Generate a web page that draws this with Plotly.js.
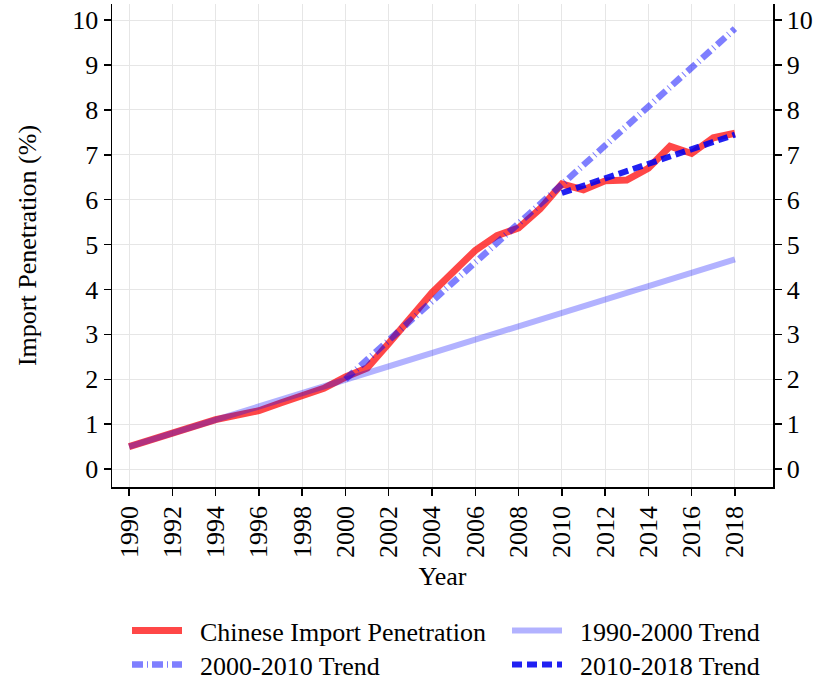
<!DOCTYPE html>
<html>
<head>
<meta charset="utf-8">
<script src="https://cdn.plot.ly/plotly-3.0.1.min.js"></script>
<style>html,body{margin:0;padding:0;background:#fff;}#chart{width:814px;height:683px;}</style>
</head>
<body>
<div id="chart"></div>
<script>
const years = [1990,1991,1992,1993,1994,1995,1996,1997,1998,1999,2000,2001,2002,2003,2004,2005,2006,2007,2008,2009,2010,2011,2012,2013,2014,2015,2016,2017,2018];
const penetration = [0.50,0.65,0.82,0.97,1.10,1.20,1.30,1.47,1.63,1.80,2.05,2.25,2.80,3.35,3.93,4.40,4.87,5.20,5.37,5.80,6.35,6.22,6.42,6.44,6.70,7.19,7.03,7.38,7.48];
const trend1Years = [1990, 2018];
const trend1Values = [0.50, 4.67];
const trend2Years = [2000, 2018];
const trend2Values = [2.00, 9.81];
const trend3Years = [2010, 2018];
const trend3Values = [6.15, 7.45];
const xTicks = [1990,1992,1994,1996,1998,2000,2002,2004,2006,2008,2010,2012,2014,2016,2018];
const yTicks = [0,1,2,3,4,5,6,7,8,9,10];
const seriesNames = ['Chinese Import Penetration', '1990-2000 Trend', '2000-2010 Trend', '2010-2018 Trend'];

const font = {family: '"Liberation Serif", "Times New Roman", serif', color: '#000'};
const fs = 26;
const pad = '\u00a0\u00a0';

const traces = [
  {x: years, y: penetration, mode: 'lines', name: pad + seriesNames[0], legend: 'legend',
   line: {color: 'rgba(255,0,0,0.72)', width: 7}},
  {x: trend1Years, y: trend1Values, mode: 'lines', name: pad + seriesNames[1], legend: 'legend2',
   line: {color: 'rgba(0,0,255,0.3)', width: 6}},
  {x: trend2Years, y: trend2Values, mode: 'lines', name: pad + seriesNames[2], legend: 'legend3',
   line: {color: 'rgba(0,0,255,0.5)', width: 6.5, dash: '11px,4px,1px,4px'}},
  {x: trend3Years, y: trend3Values, mode: 'lines', name: pad + seriesNames[3], legend: 'legend4',
   line: {color: 'rgba(0,0,240,0.87)', width: 6, dash: '10px,5px'}},
  {x: years, y: penetration, mode: 'lines', yaxis: 'y2', showlegend: false, hoverinfo: 'skip',
   line: {color: 'rgba(0,0,0,0)', width: 0}}
];

const axisCommon = {
  showgrid: true, gridcolor: '#e6e6e6', gridwidth: 1, automargin: false,
  zeroline: false, showline: true, linecolor: '#000', linewidth: 1.5,
  ticks: 'outside', ticklen: 7, tickwidth: 1.5, tickcolor: '#000',
  tickfont: Object.assign({size: fs}, font)
};

const legendCommon = {
  orientation: 'h', xref: 'container', xanchor: 'left',
  yref: 'container', yanchor: 'top',
  font: Object.assign({size: fs}, font), tracegroupgap: 0, itemwidth: 50,
  bgcolor: 'rgba(0,0,0,0)'
};
const leftX = 127 / 814, rightX = 507 / 814;
const row1Y = (683 - 607) / 683, row2Y = (683 - 641) / 683;

const layout = {
  width: 814, height: 683,
  paper_bgcolor: '#fff', plot_bgcolor: '#fff',
  margin: {l: 112, r: 41, t: 4, b: 196},
  font: font,
  showlegend: true,
  xaxis: Object.assign({}, axisCommon, {
    range: [1989.21, 2019.76], tickvals: xTicks, ticktext: xTicks.map(String),
    tickangle: -90,
    title: {text: 'Year', font: Object.assign({size: fs}, font), standoff: 10}
  }),
  yaxis: Object.assign({}, axisCommon, {
    range: [-0.4, 10.36], tickvals: yTicks, ticktext: yTicks.map(String),
    title: {text: 'Import Penetration (%)', font: Object.assign({size: fs}, font), standoff: 28}
  }),
  yaxis2: Object.assign({}, axisCommon, {
    overlaying: 'y', side: 'right', showgrid: false,
    range: [-0.4, 10.36], tickvals: yTicks, ticktext: yTicks.map(String)
  }),
  legend: Object.assign({}, legendCommon, {x: leftX, y: row1Y}),
  legend2: Object.assign({}, legendCommon, {x: rightX, y: row1Y}),
  legend3: Object.assign({}, legendCommon, {x: leftX, y: row2Y}),
  legend4: Object.assign({}, legendCommon, {x: rightX, y: row2Y})
};

Plotly.newPlot('chart', traces, layout, {displayModeBar: false, staticPlot: true});
</script>
</body>
</html>
